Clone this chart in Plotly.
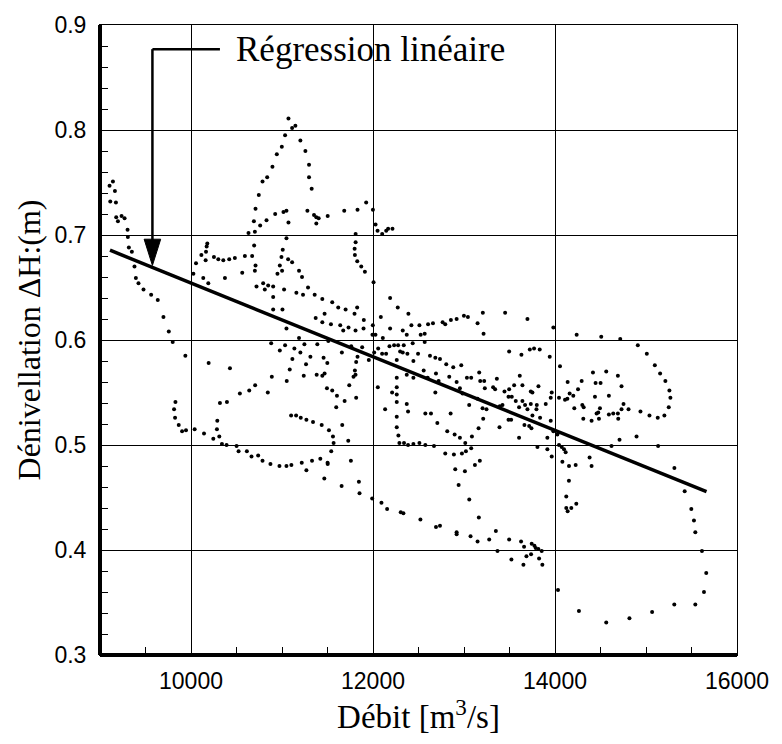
import plotly.graph_objects as go

west_branch = [
    (9142, .751), (9105, .747), (9164, .742), (9113, .732), (9175, .731), (9178, .717),
    (9197, .713), (9237, .718), (9270, .716), (9303, .705), (9306, .698), (9317, .688),
    (9350, .684), (9379, .670), (9394, .659), (9423, .654), (9478, .648), (9562, .643),
    (9635, .638), (9697, .622), (9756, .608), (9799, .598), (9938, .585),
]

west_low_loop = [
    (9829, .541), (9814, .534), (9825, .526), (9865, .519), (9902, .513), (9945, .514),
    (10040, .515), (10143, .511), (10245, .506), (10311, .508), (10285, .515), (10289, .523),
    (10318, .540), (10395, .541), (10340, .501), (10391, .500), (10501, .499), (10523, .494),
    (10614, .494), (10665, .489), (10738, .490), (10786, .485), (10873, .482), (10972, .480),
    (11049, .480), (11103, .481), (11217, .483), (11268, .476), (11330, .485),
    (10194, .578), (10428, .573), (10537, .549), (10640, .552), (10705, .557), (10844, .550),
    (10888, .565), (11052, .561), (11085, .572), (11114, .582), (11202, .588), (11239, .566),
    (11264, .577), (11312, .584), (11381, .567), (11246, .596), (11136, .592), (11034, .595),
    (10976, .590), (10881, .597), (11100, .528), (11155, .528), (11206, .526), (11268, .524),
    (11341, .522),
]

mid_band = [
    (10720, .651), (10793, .654), (10811, .648), (10848, .652), (10903, .651), (10903, .641),
    (10903, .629), (11005, .629), (11023, .648), (11158, .645), (11231, .643), (11286, .650),
    (11359, .643), (11370, .621), (11049, .611), (11187, .602), (10190, .654),
    (11049, .697), (11008, .686), (10994, .679), (10976, .671), (11067, .677), (11111, .674),
    (11001, .666), (10950, .663), (11187, .666), (11220, .660), (10694, .690), (10709, .671),
    (10702, .666), (10672, .680), (10563, .664), (10373, .659), (10161, .676), (10114, .681),
    (10165, .684), (10172, .689), (10179, .692), (10055, .673), (10026, .663), (10135, .659),
    (10252, .679), (10300, .677), (10355, .676), (10420, .677), (10482, .678), (10592, .680),
    (11809, .701), (11809, .693), (11798, .687), (11801, .681), (11827, .675), (11871, .670),
    (11911, .665), (12006, .655),
]

north_loop = [
    (10632, .702), (10691, .713), (10709, .725), (10745, .738), (10786, .751), (10837, .755),
    (10895, .765), (10943, .777), (10998, .784), (11034, .795), (11071, .811), (11111, .802),
    (11147, .804), (11202, .790), (11257, .780), (11297, .767), (11297, .755), (11326, .744),
    (11352, .719), (11377, .717), (11403, .716), (11377, .711), (11279, .723), (11071, .712),
    (11016, .722), (11049, .723), (10925, .720), (10830, .714), (10760, .709), (10702, .703),
    (11502, .718), (11684, .723), (11830, .724), (11925, .731), (11999, .724), (12028, .710),
    (12050, .704), (12101, .701), (12145, .704), (12166, .706), (12214, .706),
]

central_cloud = [
    (11443, .639), (11552, .636), (11618, .631), (11699, .629), (11826, .631), (11797, .625),
    (12188, .640), (12272, .631), (12389, .625), (11468, .625), (11443, .617), (11538, .615),
    (11640, .614), (11673, .609), (11731, .612), (11808, .609), (11896, .611), (11899, .619),
    (11998, .614), (12086, .622), (11994, .605), (12027, .605), (12188, .611), (12327, .609),
    (12371, .605), (12422, .614), (12510, .614), (12524, .605), (12568, .606), (12605, .615),
    (12659, .616), (12765, .617), (12794, .615), (12856, .619), (12919, .620), (12999, .623),
    (13043, .622), (13149, .616), (13207, .626), (13215, .606), (13452, .626), (13697, .620),
    (11388, .596), (11509, .599), (11658, .588), (11761, .594), (11881, .593), (11830, .584),
    (11954, .581), (12013, .588), (12057, .592), (12100, .587), (12144, .587), (12232, .595),
    (12276, .595), (12338, .595), (12298, .589), (12327, .588), (12378, .587), (12436, .597),
    (12495, .587), (12568, .598), (12626, .585), (12685, .583), (12736, .582), (12805, .577),
    (12882, .574), (12970, .576), (12444, .580), (12261, .581), (12181, .594), (12108, .602),
    (11457, .583), (11498, .578), (13496, .589), (13631, .586),
    (11443, .566), (11468, .568), (11494, .554), (11552, .552), (11739, .557), (11786, .565),
    (11808, .567), (11801, .571), (11815, .579), (12053, .555), (12261, .564), (12261, .555),
    (12210, .550), (12261, .548), (12371, .567), (12444, .564), (12557, .571), (12601, .564),
    (12692, .568), (12721, .561), (12838, .565), (12919, .560), (12955, .554), (13032, .564),
    (13079, .564), (13167, .569), (13178, .561), (13222, .561), (13229, .554), (13361, .563),
    (13320, .555), (13342, .553), (13445, .551), (13496, .553), (13551, .557), (13613, .566),
    (13642, .557),
]

central_low = [
    (11604, .547), (11688, .542), (11596, .536), (11815, .545), (12133, .534), (12261, .541),
    (12371, .539), (12385, .532), (12575, .530), (12637, .530), (12685, .550), (12853, .530),
    (12984, .549), (13057, .538), (13149, .544), (13204, .535), (13247, .534), (13393, .537),
    (13423, .538), (13489, .546), (13525, .546), (13569, .542), (13605, .536), (13642, .542),
    (13671, .538), (13697, .534), (11436, .519), (11516, .514), (11560, .508), (11567, .502),
    (11662, .519), (11728, .504), (12261, .527), (12261, .517), (12279, .509), (12290, .502),
    (12341, .502), (12385, .500), (12444, .501), (12510, .502), (12575, .500), (12670, .499),
    (12707, .521), (12816, .513), (12897, .510), (12955, .507), (13014, .502), (13087, .508),
    (13160, .516), (13211, .525), (13390, .517), (13489, .524), (13518, .524), (13605, .507),
    (13664, .519), (11421, .487), (11501, .483), (11541, .494), (11757, .485), (12794, .492),
    (12889, .491), (12977, .492), (13021, .494), (13079, .497), (13120, .481), (13174, .485),
    (12904, .477),
]

east_loop = [
    (13982, .612), (14238, .605), (14508, .603), (14717, .601), (13723, .591), (13770, .592),
    (13832, .591), (13942, .584), (14055, .575), (14910, .595), (15009, .587), (15097, .576),
    (15155, .568), (15213, .561), (15257, .552), (15268, .545), (15250, .536), (15202, .528),
    (15129, .526), (15038, .528), (14939, .532), (14417, .569), (14563, .570), (14691, .566),
    (14731, .556), (14139, .560), (14293, .561), (14446, .559), (14501, .559), (14592, .547),
    (14439, .546), (14044, .545), (14110, .543), (14136, .544), (14161, .549), (14201, .547),
    (14253, .553), (14212, .535), (14300, .538), (14315, .536), (14311, .525), (14402, .523),
    (14457, .530), (14475, .531), (14494, .535), (14483, .525), (14592, .529), (14640, .530),
    (14691, .530), (14695, .525), (14731, .534), (14753, .539), (14808, .534), (13734, .551),
    (13752, .550), (13818, .556), (13964, .550), (13953, .545), (13734, .539), (13800, .538),
    (13796, .534), (13898, .539), (13752, .528), (13836, .526), (13953, .523), (13716, .518),
    (13741, .516), (13916, .507), (13982, .513), (14026, .510), (14709, .505), (14896, .508),
    (13807, .498), (13916, .496), (14044, .500), (14074, .498), (14099, .496), (14117, .493),
    (13964, .489), (14081, .484), (14154, .480), (14227, .481), (14380, .488), (14402, .480),
    (14621, .499), (15133, .499), (15312, .478),
]

south_arc = [
    (11502, .482), (11465, .468), (11655, .461), (11845, .465), (11852, .454), (11991, .449),
    (12093, .445), (12155, .439), (12305, .436), (12334, .435), (13010, .475), (12521, .429),
    (12692, .422), (12736, .423), (12919, .417), (12919, .415), (13072, .413), (13149, .408),
    (13277, .410), (13350, .418), (13368, .399), (13496, .410), (13521, .391), (13627, .408),
    (13660, .403), (13653, .386), (13686, .394), (13737, .396), (13744, .406), (13774, .404),
    (13788, .402), (13817, .401), (13825, .392), (13854, .399), (13861, .386), (12941, .462),
    (13058, .448), (13163, .431), (14153, .466), (14124, .451), (14124, .440), (14139, .437),
    (14179, .440), (14234, .444),
]

east_drop = [
    (15425, .456), (15498, .439), (15527, .428), (15542, .417), (15615, .399), (15662, .378),
    (15637, .360), (15542, .348), (15311, .348), (15067, .341), (14818, .335), (14563, .331),
    (14263, .342), (14033, .362),
]

# linear regression end points
reg_debit = [9110, 15665]
reg_deniv = [0.6855, 0.4555]

# axes
x_range = [9000, 16000]
y_range = [0.3, 0.9]

all_pts = (west_branch + west_low_loop + mid_band + north_loop + central_cloud
           + central_low + east_loop + south_arc + east_drop)
debit = [p[0] for p in all_pts]
deniv = [p[1] for p in all_pts]

fig = go.Figure()
fig.add_trace(go.Scatter(
    x=debit, y=deniv, mode="markers",
    marker=dict(color="black", size=4, line=dict(width=0)),
    showlegend=False, hoverinfo="x+y",
))
fig.add_trace(go.Scatter(
    x=reg_debit, y=reg_deniv, mode="lines",
    line=dict(color="black", width=3.5),
    showlegend=False,
))

serif = "Liberation Serif, Times New Roman, serif"
sans = "Liberation Sans, Arial, sans-serif"

fig.update_layout(
    width=782, height=744,
    margin=dict(l=100, r=45, t=22, b=89),
    paper_bgcolor="white", plot_bgcolor="white",
    xaxis=dict(
        range=x_range, dtick=2000, tick0=10000, tickformat="d",
        showgrid=True, gridcolor="black", gridwidth=1, zeroline=False,
        showline=True, linecolor="black", linewidth=1, mirror=True,
        ticks="", tickfont=dict(family=sans, size=23, color="black"),
        ticklabelstandoff=5,
        minor=dict(dtick=500, tick0=9000, ticks="inside", ticklen=8, tickwidth=1,
                   tickcolor="black", showgrid=False),
        title=dict(text="Débit [m<sup>3</sup>/s]", standoff=8,
                   font=dict(family=serif, size=33, color="black")),
    ),
    yaxis=dict(
        range=y_range, dtick=0.1, tick0=0.3, tickformat=".1f",
        showgrid=True, gridcolor="black", gridwidth=1, zeroline=False,
        showline=True, linecolor="black", linewidth=1, mirror=True,
        ticks="", tickfont=dict(family=sans, size=23, color="black"),
        ticklabelstandoff=8,
        minor=dict(dtick=0.02, tick0=0.3, ticks="inside", ticklen=8, tickwidth=1,
                   tickcolor="black", showgrid=False),
        title=dict(text="Dénivellation ΔH:(m)", standoff=4,
                   font=dict(family=serif, size=32, color="black")),
    ),
    shapes=[
        dict(type="line", xref="paper", yref="paper", x0=0, x1=0, y0=0, y1=1,
             line=dict(color="black", width=4), layer="above"),
        dict(type="line", xref="paper", yref="paper", x0=0, x1=1, y0=0, y1=0,
             line=dict(color="black", width=4), layer="above"),
        dict(type="line", xref="x", yref="y", x0=9576, x1=10318, y0=0.877, y1=0.877,
             line=dict(color="black", width=2.5)),
        dict(type="line", xref="x", yref="y", x0=9576, x1=9576, y0=0.877, y1=0.69,
             line=dict(color="black", width=2.5)),
        dict(type="path", xref="x", yref="y",
             path="M 9485,0.696 L 9667,0.696 L 9576,0.671 Z",
             fillcolor="black", line=dict(color="black", width=1)),
    ],
    annotations=[
        dict(x=10470, y=0.877, xref="x", yref="y", xanchor="left", yanchor="middle",
             text="Régression linéaire", showarrow=False,
             font=dict(family=serif, size=35, color="black")),
    ],
)

fig.write_html("out.html")
